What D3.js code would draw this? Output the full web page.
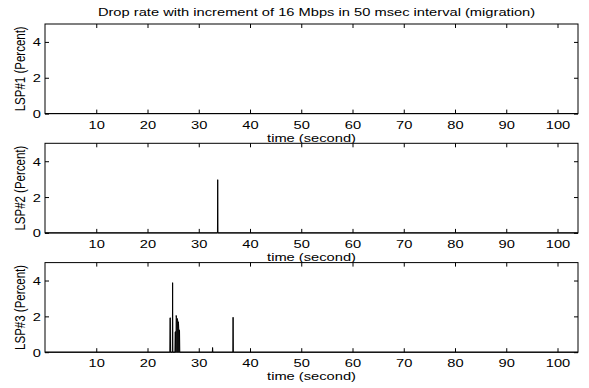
<!DOCTYPE html>
<html><head><meta charset="utf-8">
<script src="https://cdn.jsdelivr.net/npm/d3@7"></script>
<style>body{margin:0;background:#fff}</style>
</head><body>
<svg id="c" width="589" height="388"></svg>
<script>
const titleText = "Drop rate with increment of 16 Mbps in 50 msec interval (migration)";
const panelLabels = ["LSP#1 (Percent)", "LSP#2 (Percent)", "LSP#3 (Percent)"];
const xLabel = "time (second)";
const xTicks = [10, 20, 30, 40, 50, 60, 70, 80, 90, 100];
const yTicks = [0, 2, 4];
const xDomain = [0, 104];
const yDomain = [0, 5];
const sampleStep = 0.05;
// non-zero drop-rate samples (seconds, percent); all other samples are 0
const lsp1Times = [];
const lsp1Values = [];
const lsp2Times = [33.7];
const lsp2Values = [2.97];
const lsp3Times = [24.40, 24.45, 24.90, 25.40, 25.45, 25.60, 25.65, 25.70, 25.80, 25.85, 25.90, 26.00, 26.05, 26.10, 26.20, 26.25, 32.70, 36.70];
const lsp3Values = [1.92, 1.92, 3.88, 1.10, 1.15, 2.05, 1.95, 1.90, 1.88, 1.80, 1.75, 1.70, 1.60, 1.30, 1.25, 1.20, 0.26, 1.95];

const series = [[lsp1Times, lsp1Values], [lsp2Times, lsp2Values], [lsp3Times, lsp3Values]];

const svg = d3.select("#c");
const W = 589, H = 388;
const left = 45, right = 578;
const tops = [24, 143.3, 262.6];
const ph = 89.6;
const SX = 1.3;            // horizontal glyph stretch of the original figure
const FS = 11.3;
const font = "'Liberation Sans', Arial, Helvetica, sans-serif";

svg.append("rect").attr("width", W).attr("height", H).attr("fill", "#fff");

const x = d3.scaleLinear().domain(xDomain).range([left, right]);

function buildPoints(times, vals) {
  const pts = [[xDomain[0], 0]];
  const eps = 1e-6;
  for (let i = 0; i < times.length; i++) {
    const t = times[i];
    const prev = i > 0 ? times[i - 1] : -Infinity;
    const next = i < times.length - 1 ? times[i + 1] : Infinity;
    if (Math.abs(t - sampleStep - prev) > eps) pts.push([t - sampleStep, 0]);
    pts.push([t, vals[i]]);
    if (Math.abs(next - t - sampleStep) > eps) pts.push([t + sampleStep, 0]);
  }
  pts.push([xDomain[1], 0]);
  return pts;
}

function stretchText(sel) {
  sel.attr("transform", function () {
    const t = d3.select(this);
    const xx = +t.attr("x") || 0;
    return `scale(${SX},1)`;
  });
}

tops.forEach((top, i) => {
  const y = d3.scaleLinear().domain(yDomain).range([top + ph, top]);
  const g = svg.append("g");
  g.append("rect").attr("x", left).attr("y", top).attr("width", right - left).attr("height", ph)
    .attr("fill", "#fff");

  // data line
  const pts = buildPoints(series[i][0], series[i][1]);
  g.append("path").datum(pts)
    .attr("fill", "none").attr("stroke", "#000").attr("stroke-width", 1)
    .attr("d", d3.line().x(d => x(d[0])).y(d => y(d[1])));

  // axes
  const axB = g.append("g").attr("transform", `translate(0,${top + ph})`)
    .call(d3.axisBottom(x).tickValues(xTicks).tickSize(-4).tickPadding(6).tickFormat(d3.format("d")));
  const axT = g.append("g").attr("transform", `translate(0,${top})`)
    .call(d3.axisTop(x).tickValues(xTicks).tickSize(-4).tickFormat(""));
  const axL = g.append("g").attr("transform", `translate(${left},0)`)
    .call(d3.axisLeft(y).tickValues(yTicks).tickSize(-4).tickPadding(4).tickFormat(d3.format("d")));
  const axR = g.append("g").attr("transform", `translate(${right},0)`)
    .call(d3.axisRight(y).tickValues(yTicks).tickSize(-4).tickFormat(""));
  [axB, axT, axL, axR].forEach(a => {
    a.select(".domain").remove();
    a.selectAll("line").attr("stroke", "#000").attr("stroke-width", 1);
    a.selectAll("text").attr("font-family", font).attr("font-size", FS).attr("fill", "#000");
  });
  axB.selectAll("text").attr("dy", null).attr("y", 15).attr("transform", `scale(${SX},1)`);
  axL.selectAll("text").attr("dy", null).attr("x", -4 / SX).attr("y", 4).attr("transform", `scale(${SX},1)`);

  // frame
  g.append("rect").attr("x", left).attr("y", top).attr("width", right - left).attr("height", ph)
    .attr("fill", "none").attr("stroke", "#000").attr("stroke-width", 1);

  // x label
  const cx = (left + right) / 2;
  g.append("text").attr("transform", `translate(${cx},${top + ph + 28}) scale(${SX},1)`)
    .attr("text-anchor", "middle").attr("font-family", font).attr("font-size", FS).text(xLabel);

  // y label
  g.append("text").attr("transform", `translate(25,${top + ph / 2}) scale(${SX},1) rotate(-90)`)
    .attr("text-anchor", "middle").attr("font-family", font).attr("font-size", 11.5).text(panelLabels[i]);

  if (i === 0) {
    svg.append("text").attr("transform", `translate(${cx + 5},16) scale(${SX},1)`)
      .attr("text-anchor", "middle").attr("font-family", font).attr("font-size", FS).text(titleText);
  }
});
</script>
</body></html>
